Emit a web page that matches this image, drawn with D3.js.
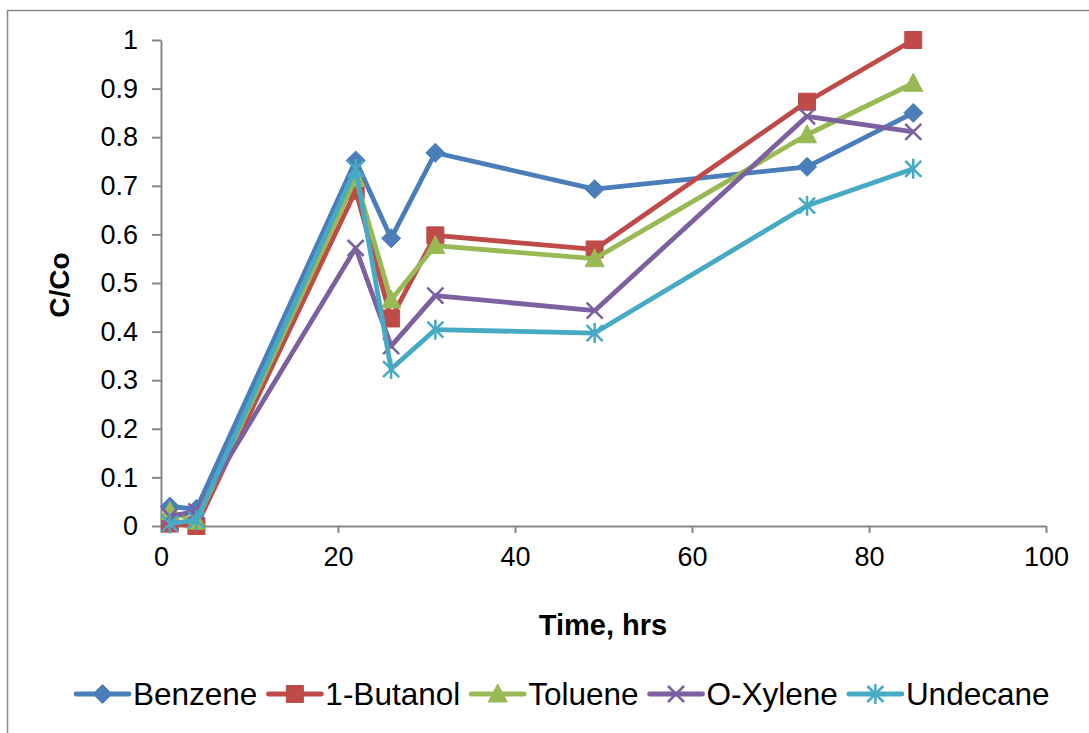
<!DOCTYPE html>
<html>
<head>
<meta charset="utf-8">
<script src="https://cdn.jsdelivr.net/npm/d3@7"></script>
<style>
  body { margin: 0; background: #fff; }
  svg { display: block; font-family: "Liberation Sans", Arial, sans-serif; }
</style>
</head>
<body>
<svg id="chart"></svg>
<script>
// data
const times = [1, 4, 22, 26, 31, 49, 73, 85];
const benzene = [0.04, 0.035, 0.752, 0.592, 0.768, 0.693, 0.739, 0.85];
const butanol = [0.005, 0, 0.69, 0.427, 0.598, 0.569, 0.873, 1.0];
const toluene = [0.03, 0.01, 0.715, 0.465, 0.577, 0.55, 0.805, 0.911];
const oxylene = [0.02, 0.03, 0.572, 0.37, 0.474, 0.443, 0.843, 0.811];
const undecane = [0.005, 0.012, 0.735, 0.323, 0.404, 0.397, 0.659, 0.735];
const seriesNames = ["Benzene", "1-Butanol", "Toluene", "O-Xylene", "Undecane"];
const xTicks = [0, 20, 40, 60, 80, 100];
const yTicks = [0, 0.1, 0.2, 0.3, 0.4, 0.5, 0.6, 0.7, 0.8, 0.9, 1];

const width = 1089, height = 733;
const colors = ["#4a7ebb", "#be4b48", "#98b954", "#7d60a0", "#46aac5"];
const markers = ["diamond", "square", "triangle", "x", "star"];
const series = [benzene, butanol, toluene, oxylene, undecane].map((vals, i) => ({
    name: seriesNames[i],
    color: colors[i],
    marker: markers[i],
    points: vals.map((v, j) => ({ t: times[j], v: v }))
}));

const svg = d3.select("#chart").attr("width", width).attr("height", height);

// outer chart frame (cropped at right and bottom)
svg.append("rect")
    .attr("x", 7.5).attr("y", 10.5)
    .attr("width", 1200).attr("height", 900)
    .attr("fill", "none").attr("stroke", "#8a8a8a").attr("stroke-width", 1.5);

const x = d3.scaleLinear().domain([0, 100]).range([161, 1046]);
const y = d3.scaleLinear().domain([0, 1]).range([526, 40]);

// axes
const xAxis = svg.append("g")
    .attr("transform", `translate(0,${y(0)})`)
    .call(d3.axisBottom(x).tickValues(xTicks).tickSize(7).tickSizeOuter(0).tickPadding(14));
const yAxis = svg.append("g")
    .attr("transform", `translate(${x(0)},0)`)
    .call(d3.axisLeft(y).tickValues(yTicks).tickSize(9).tickSizeOuter(0).tickPadding(14)
        .tickFormat(d => d === 0 || d === 1 ? d : d.toFixed(1)));

[xAxis, yAxis].forEach(g => {
    g.select(".domain").attr("stroke", "#868686").attr("stroke-width", 2);
    g.selectAll(".tick line").attr("stroke", "#868686").attr("stroke-width", 2);
    g.selectAll(".tick text").attr("fill", "#000").attr("font-size", "27px")
        .attr("font-family", "Liberation Sans, Arial, sans-serif");
});

// axis titles
svg.append("text")
    .attr("x", 603).attr("y", 635)
    .attr("text-anchor", "middle")
    .attr("font-size", "29px").attr("font-weight", "bold")
    .text("Time, hrs");

svg.append("text")
    .attr("transform", "translate(69,285) rotate(-90)")
    .attr("text-anchor", "middle")
    .attr("font-size", "28px").attr("font-weight", "bold")
    .text("C/Co");

// marker shapes, drawn around (0,0)
function markerPath(type) {
    switch (type) {
        case "diamond": return "M0,-9.5L9.5,0L0,9.5L-9.5,0Z";
        case "square": return "M-8.5,-8.5H8.5V8.5H-8.5Z";
        case "triangle": return "M0,-10L9.5,8L-9.5,8Z";
        case "x": return "M-8,-8L8,8M8,-8L-8,8";
        case "star": return "M-8,-8L8,8M8,-8L-8,8M0,-10L0,10";
    }
}
function drawMarker(g, s) {
    const open = s.marker === "x" || s.marker === "star";
    g.append("path")
        .attr("d", markerPath(s.marker))
        .attr("fill", open ? "none" : s.color)
        .attr("stroke", s.color)
        .attr("stroke-width", open ? 2.5 : 1);
}

const line = d3.line().x(d => x(d.t)).y(d => y(d.v));

series.forEach(s => {
    const g = svg.append("g");
    g.append("path")
        .datum(s.points)
        .attr("fill", "none")
        .attr("stroke", s.color)
        .attr("stroke-width", 4.8)
        .attr("stroke-linejoin", "round")
        .attr("d", line);
    s.points.forEach(p => {
        const m = g.append("g").attr("transform", `translate(${x(p.t)},${y(p.v)})`);
        drawMarker(m, s);
    });
});

// legend
const legend = svg.append("g").attr("transform", "translate(0,694)");
let lx = 76;
series.forEach(s => {
    const item = legend.append("g");
    item.append("line")
        .attr("x1", lx).attr("x2", lx + 53)
        .attr("y1", 0).attr("y2", 0)
        .attr("stroke", s.color).attr("stroke-width", 4.8)
        .attr("stroke-linecap", "round");
    const m = item.append("g").attr("transform", `translate(${lx + 26.5},0)`);
    drawMarker(m, s);
    const t = item.append("text")
        .attr("x", lx + 57).attr("y", 0)
        .attr("dy", "0.36em")
        .attr("font-size", "31.5px")
        .text(s.name);
    lx += 57 + t.node().getComputedTextLength() + 11;
});
</script>
</body>
</html>
